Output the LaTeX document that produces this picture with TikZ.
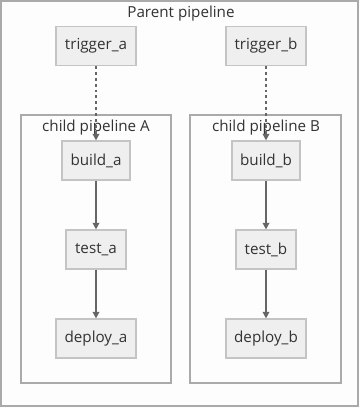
\documentclass[tikz,border=0pt]{standalone}
\usepackage{fontspec}
\setmainfont{Open Sans}
\usetikzlibrary{arrows.meta}
\definecolor{bgc}{HTML}{FDFDFD}
\definecolor{framec}{HTML}{AAAAAA}
\definecolor{boxfill}{HTML}{EFEFEF}
\definecolor{boxdraw}{HTML}{C4C4C4}
\definecolor{linec}{HTML}{666666}
\definecolor{txt}{HTML}{333333}
\tikzset{
  jobbox/.style={draw=boxdraw, fill=boxfill, line width=1.1pt, inner sep=0pt,
    minimum height=29pt, font=\fontsize{11.4}{13}\selectfont, text=txt},
  frame/.style={draw=framec, line width=1.1pt},
  flabel/.style={font=\fontsize{11.4}{13}\selectfont, text=txt},
  conn/.style={draw=linec, line width=1.2pt, -{Triangle[length=5pt,width=5pt]}},
  dconn/.style={conn, dash pattern=on 2.2pt off 2.2pt}
}
\begin{document}
\begin{tikzpicture}[x=0.75pt,y=-0.75pt]
\useasboundingbox (0,0) rectangle (360,408);
\fill[bgc] (0,0) rectangle (360,408);
\draw[frame] (1,1) rectangle (358,406);
\node[flabel] (ptitle) at (181,14) {Parent pipeline};
\draw[frame] (21,115) rectangle (171,383);
\draw[frame] (190,115) rectangle (341,383);
\node[flabel] (ca) at (96,128) {child pipeline A};
\node[flabel] (cb) at (266,128) {child pipeline B};
\node[jobbox, minimum width=60pt] (ta) at (96,46) {trigger\_a};
\node[jobbox, minimum width=60pt] (tb) at (266,46) {trigger\_b};
\node[jobbox, minimum width=51pt] (ba) at (96,160.5) {build\_a};
\node[jobbox, minimum width=51pt] (bb) at (266,160.5) {build\_b};
\node[jobbox, minimum width=45pt] (sa) at (96,249.5) {test\_a};
\node[jobbox, minimum width=45pt] (sb) at (266,249.5) {test\_b};
\node[jobbox, minimum width=60pt] (da) at (96,338.5) {deploy\_a};
\node[jobbox, minimum width=60pt] (db) at (266,338.5) {deploy\_b};
\draw[dconn] (ta) -- (ba);
\draw[dconn] (tb) -- (bb);
\draw[conn] (ba) -- (sa);
\draw[conn] (bb) -- (sb);
\draw[conn] (sa) -- (da);
\draw[conn] (sb) -- (db);
\end{tikzpicture}
\end{document}
